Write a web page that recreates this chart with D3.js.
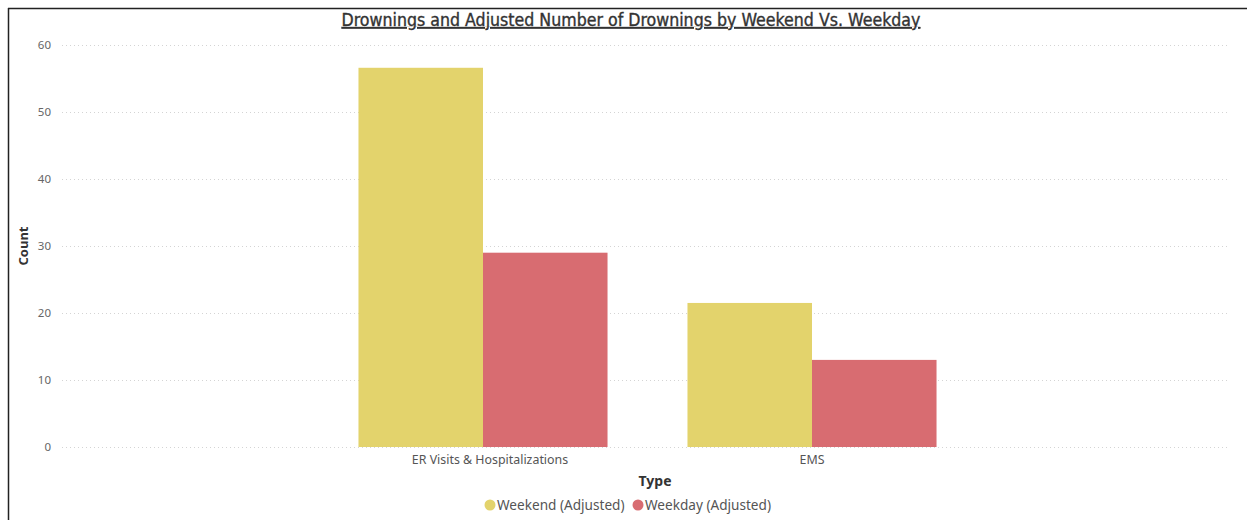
<!DOCTYPE html>
<html><head><meta charset="utf-8">
<script src="https://cdn.jsdelivr.net/npm/d3@7"></script>
<style>
html,body{margin:0;padding:0;background:#fff;}
svg{display:block;}
</style></head>
<body>
<svg id="chart" width="1247" height="520"></svg>
<script>
const categories = ["ER Visits & Hospitalizations", "EMS"];
const seriesNames = ["Weekend (Adjusted)", "Weekday (Adjusted)"];
const weekendValues = [56.6, 21.5];
const weekdayValues = [29.0, 13.0];
const yTicks = [0, 10, 20, 30, 40, 50, 60];
const colors = ["#E3D36C", "#D86C71"];

const svg = d3.select("#chart");
// frame
svg.append("line").attr("x1",8).attr("x2",1247).attr("y1",8.5).attr("y2",8.5).attr("stroke","#222").attr("stroke-width",1.5);
svg.append("line").attr("x1",8.5).attr("x2",8.5).attr("y1",8).attr("y2",520).attr("stroke","#222").attr("stroke-width",1.5);

const y = d3.scaleLinear().domain([0,60]).range([447,45]);
const x = d3.scaleBand().domain(categories).range([318.5,976.5]).paddingInner(0.243).paddingOuter(0.1215);
const xs = d3.scaleBand().domain(seriesNames).range([0, x.bandwidth()]);

// gridlines
const grid = svg.append("g");
grid.selectAll("line").data(yTicks).join("line")
  .attr("x1",62).attr("x2",1230)
  .attr("y1",d=>y(d)+0.5).attr("y2",d=>y(d)+0.5)
  .attr("stroke","#d4d4d4").attr("stroke-width",1).attr("stroke-dasharray","1,3");

// y axis labels
const yAxis = svg.append("g").attr("transform","translate(51,0)")
  .call(d3.axisLeft(y).tickValues(yTicks).tickSize(0).tickPadding(0));
yAxis.select(".domain").remove();
yAxis.selectAll("text").attr("font-family","'Noto Sans', sans-serif").attr("font-size",11.5).attr("fill","#666");

// bars
const data = categories.map((c,i)=>({cat:c, vals:[weekendValues[i], weekdayValues[i]]}));
const groups = svg.append("g").selectAll("g").data(data).join("g")
  .attr("transform",d=>`translate(${x(d.cat)},0)`);
groups.selectAll("rect").data(d=>d.vals.map((v,j)=>({s:seriesNames[j], v, j})))
  .join("rect")
  .attr("x",d=>xs(d.s)).attr("width",xs.bandwidth())
  .attr("y",d=>y(d.v)).attr("height",d=>y(0)-y(d.v))
  .attr("fill",d=>colors[d.j]);

// x axis labels
const xAxis = svg.append("g").attr("transform","translate(0,447)")
  .call(d3.axisBottom(x).tickSize(0).tickPadding(8));
xAxis.select(".domain").remove();
xAxis.selectAll("text").attr("font-family","'Noto Sans', sans-serif").attr("font-size",12.4).attr("fill","#555")
  .attr("dx",(d,i)=>i===0?7:0);

// title
svg.append("text").attr("x",631).attr("y",26).attr("text-anchor","middle")
  .attr("font-family","'DejaVu Sans Condensed', 'DejaVu Sans', sans-serif").attr("font-size",17.6)
  .attr("fill","#333").attr("stroke","#333").attr("stroke-width",0.35).attr("text-decoration","underline")
  .text("Drownings and Adjusted Number of Drownings by Weekend Vs. Weekday");

// axis titles
svg.append("text").attr("transform","translate(28,246) rotate(-90)").attr("text-anchor","middle")
  .attr("font-family","'Noto Sans', sans-serif").attr("font-size",13).attr("font-weight","bold").attr("fill","#333")
  .text("Count");
svg.append("text").attr("x",655).attr("y",486).attr("text-anchor","middle")
  .attr("font-family","'Noto Sans', sans-serif").attr("font-size",14).attr("font-weight","bold").attr("fill","#333")
  .text("Type");

// legend
const legend = svg.append("g");
const legendX = [484, 632];
seriesNames.forEach((s,i)=>{
  const g = legend.append("g").attr("transform",`translate(${legendX[i]},505)`);
  g.append("circle").attr("cx",6).attr("cy",0).attr("r",5.5).attr("fill",colors[i]);
  g.append("text").attr("x",13).attr("y",5).attr("font-family","'Noto Sans', sans-serif")
    .attr("font-size",13.6).attr("fill","#555").text(s);
});
</script>
</body></html>
